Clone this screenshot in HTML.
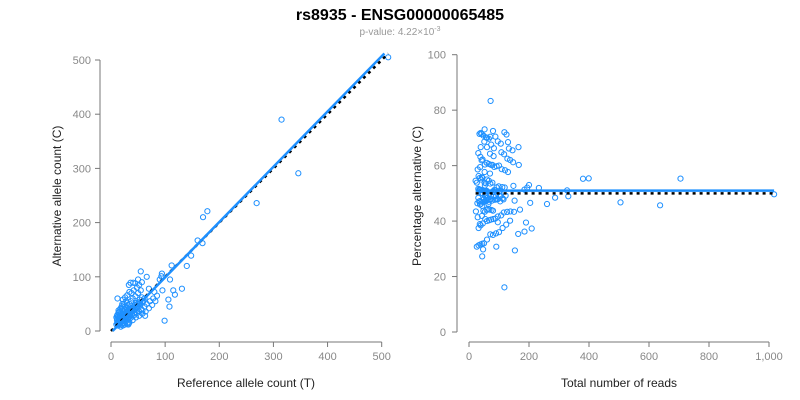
<!DOCTYPE html>
<html><head><meta charset="utf-8">
<style>
body{margin:0;background:#fff;}
svg{display:block;font-family:"Liberation Sans",Arial,sans-serif;}
.tick{fill:#888;font-size:11px;}
.lab{fill:#222;font-size:12px;}
</style></head>
<body>
<svg id="chart" width="800" height="400">
<text x="400" y="20" text-anchor="middle" font-size="16" font-weight="bold" fill="#000">rs8935 - ENSG00000065485</text>
<text x="400" y="35" text-anchor="middle" font-size="10" fill="#999">p-value: 4.22×10<tspan dy="-4" font-size="7">-3</tspan></text>
<text class="lab" transform="translate(61,196) rotate(-90)" text-anchor="middle">Alternative allele count (C)</text>
<text class="lab" x="246" y="387" text-anchor="middle">Reference allele count (T)</text>
<text class="lab" transform="translate(421,196) rotate(-90)" text-anchor="middle">Percentage alternative (C)</text>
<text class="lab" x="619" y="387" text-anchor="middle">Total number of reads</text>
<g id="g"></g>
</svg>
<script>
const refCounts=[12,15,14,18,20,10,13,16,22,19,25,24,28,30,27,32,35,33,38,40,36,42,45,44,48,50,47,52,55,53,58,60,57,62,35,30,34,28,26,31,11,14,17,21,23,26,29,31,34,37,20,24,28,32,36,40,44,48,52,56,16,18,21,23,26,29,31,34,37,39,41,43,46,49,51,54,12,15,13,17,22,25,27,30,33,35,38,42,45,12,16,20,25,30,40,45,50,55,22,25,70,18,80,20,27,95,78,72,66,62,58,85,24,30,16,55,45,50,66,19,38,42,28,24,18,14,10,11,14,17,20,21,22,26,30,34,48,52,57,18,22,26,30,34,40,46,52,58,64,70,76,82,32,15,17,19,21,23,25,27,29,512,315,346,269,178,170,160,169,148,140,112,131,94,93,90,109,115,118,106,108,99,12,33,36,41,63,33];
const altCounts=[14,13,18,16,17,12,10,20,19,24,22,28,25,27,33,30,31,38,35,36,42,40,41,48,44,46,52,50,49,58,54,55,62,60,30,36,31,27,30,28,20,24,28,32,36,40,44,47,50,55,12,15,18,22,24,27,30,33,36,40,15,19,21,23,24,30,29,34,36,40,43,45,44,50,53,52,17,22,26,12,14,18,21,23,26,28,30,33,35,30,35,40,45,52,60,64,70,75,30,28,78,22,72,25,26,75,60,55,50,45,38,65,20,40,26,110,88,95,100,17,70,75,55,50,42,38,25,28,34,40,46,50,58,62,66,72,80,85,90,8,10,12,14,16,20,25,28,32,36,42,48,55,12,16,18,20,22,24,26,28,30,505,390,291,236,221,210,167,162,139,120,121,78,106,101,95,95,75,67,58,45,19,60,85,89,89,28,14];
const leftXTicks=[0,100,200,300,400,500];
const leftYTicks=[0,100,200,300,400,500];
const rightXTicks=[0,200,400,600,800,1000];
const rightYTicks=[0,20,40,60,80,100];
const fitLeft=[ -3, 1.02 ];
const fitRightPct=[51];

const NS="http://www.w3.org/2000/svg";
const g=document.getElementById('g');
function mk(t,a){const e=document.createElementNS(NS,t);for(const k in a)e.setAttribute(k,a[k]);g.appendChild(e);return e;}
const lx=v=>111+v*0.5414, ly=v=>331-v*0.542;
const rx=v=>469+v*0.300, ry=v=>332-v*2.773;
const axc="#777";
function fmt(v){return v>=1000?v.toLocaleString('en-US'):String(v);}

let e;
e=mk('line',{x1:100,y1:ly(0),x2:100,y2:ly(500),stroke:axc});


e=mk('line',{x1:lx(0),y1:342,x2:lx(500),y2:342,stroke:axc});


leftYTicks.forEach(v=>{
 mk('line',{x1:95,y1:ly(v),x2:100,y2:ly(v),stroke:axc});
 e=mk('text',{x:91,y:ly(v)+4,'text-anchor':'end',class:'tick'});e.textContent=fmt(v);
 
 
});
leftXTicks.forEach(v=>{
 mk('line',{x1:lx(v),y1:342,x2:lx(v),y2:347,stroke:axc});
 e=mk('text',{x:lx(v),y:360,'text-anchor':'middle',class:'tick'});e.textContent=fmt(v);
 
 
});
e=mk('line',{x1:457,y1:ry(0),x2:457,y2:ry(100),stroke:axc});


e=mk('line',{x1:rx(0),y1:342,x2:rx(1000),y2:342,stroke:axc});


rightYTicks.forEach(v=>{
 mk('line',{x1:452,y1:ry(v),x2:457,y2:ry(v),stroke:axc});
 e=mk('text',{x:446,y:ry(v)+4,'text-anchor':'end',class:'tick'});e.textContent=fmt(v);
 
 
});
rightXTicks.forEach(v=>{
 mk('line',{x1:rx(v),y1:342,x2:rx(v),y2:347,stroke:axc});
 e=mk('text',{x:rx(v),y:360,'text-anchor':'middle',class:'tick'});e.textContent=fmt(v);
 
 
});

for(let i=0;i<refCounts.length;i++){
 const r=refCounts[i],a=altCounts[i],t=r+a,p=a/t*100;
 e=mk('circle',{cx:lx(r),cy:ly(a),r:2.6,fill:'none',stroke:'#1e90ff','stroke-width':1});
 
 
 e=mk('circle',{cx:rx(t),cy:ry(p),r:2.6,fill:'none',stroke:'#1e90ff','stroke-width':1});
 
 
}
const maxRef=Math.max(...refCounts);
e=mk('line',{x1:lx(0),y1:ly(0),x2:lx(maxRef),y2:ly(maxRef),stroke:'#000','stroke-width':2.5,'stroke-dasharray':'3,4'});


const x0=3;
e=mk('line',{x1:lx(x0),y1:ly(fitLeft[0]+fitLeft[1]*x0),x2:lx(505),y2:ly(fitLeft[0]+fitLeft[1]*505),stroke:'#1e90ff','stroke-width':2.5});


const maxT=Math.max(...refCounts.map((r,i)=>r+altCounts[i]));
const minT=Math.min(...refCounts.map((r,i)=>r+altCounts[i]));
e=mk('line',{x1:rx(minT),y1:ry(50),x2:rx(maxT),y2:ry(50),stroke:'#000','stroke-width':2.5,'stroke-dasharray':'3,4'});


e=mk('line',{x1:rx(minT),y1:ry(fitRightPct[0]),x2:rx(maxT),y2:ry(fitRightPct[0]),stroke:'#1e90ff','stroke-width':2.5});


</script>
</body></html>
